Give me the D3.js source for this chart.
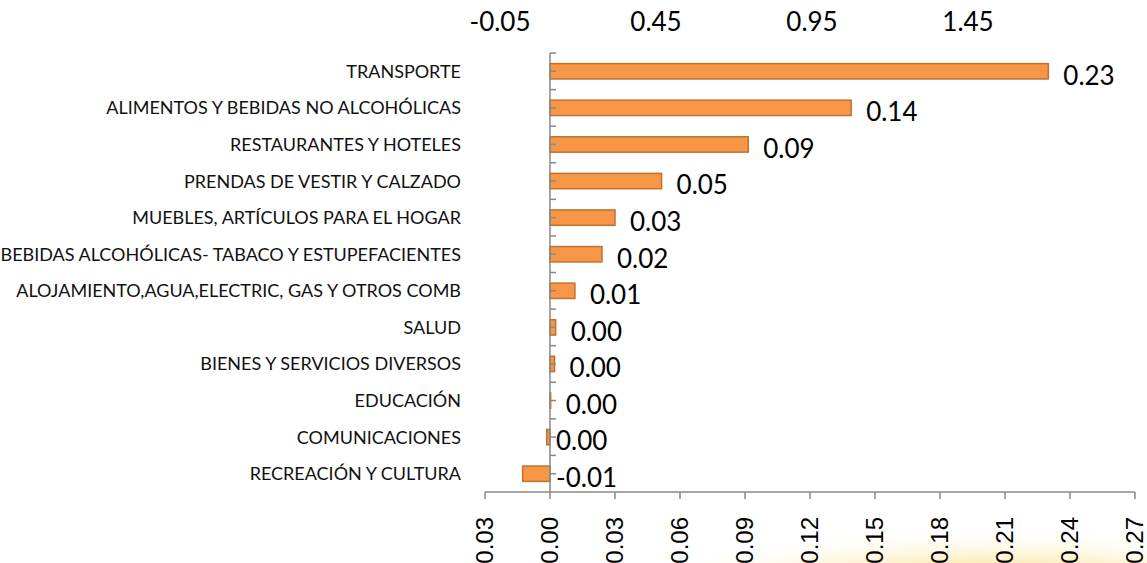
<!DOCTYPE html>
<html>
<head>
<meta charset="utf-8">
<script src="https://cdn.jsdelivr.net/npm/d3@7"></script>
<style>
  body { margin: 0; background: #fff; }
  svg { display: block; }
</style>
</head>
<body>
<svg id="chart" width="1147" height="563"></svg>
<script>
// categories, top to bottom
const categories = [
  "TRANSPORTE",
  "ALIMENTOS Y BEBIDAS NO ALCOHÓLICAS",
  "RESTAURANTES Y HOTELES",
  "PRENDAS DE VESTIR Y CALZADO",
  "MUEBLES, ARTÍCULOS PARA EL HOGAR",
  "BEBIDAS ALCOHÓLICAS- TABACO Y ESTUPEFACIENTES",
  "ALOJAMIENTO,AGUA,ELECTRIC, GAS Y OTROS COMB",
  "SALUD",
  "BIENES Y SERVICIOS DIVERSOS",
  "EDUCACIÓN",
  "COMUNICACIONES",
  "RECREACIÓN Y CULTURA"
];

// incidencias
const values = [0.230, 0.139, 0.0915, 0.0515, 0.030, 0.024, 0.0115, 0.0026, 0.0021, 0.0003, -0.0015, -0.0126];

// bottom axis ticks and their labels (the first one is shown without a minus)
const bottomTicks = [-0.03, 0, 0.03, 0.06, 0.09, 0.12, 0.15, 0.18, 0.21, 0.24, 0.27];
const bottomTickLabels = ["0.03", "0.00", "0.03", "0.06", "0.09", "0.12", "0.15", "0.18", "0.21", "0.24", "0.27"];

// secondary (top) axis labels
const topTicks = [-0.05, 0.45, 0.95, 1.45];

const svg = d3.select("#chart");

const x = d3.scaleLinear().domain([-0.03, 0.27]).range([485, 1135]);
const xTop = d3.scaleLinear().domain([-0.05, 1.45]).range([500, 968]);
const y = d3.scaleBand().domain(categories).range([53, 492])
  .paddingInner(0.58).paddingOuter(0.29);

const fmt = v => {
  const s = v.toFixed(2);
  return s === "-0.00" ? "0.00" : s;
};

// soft yellow glow at the bottom right
const defs = svg.append("defs");
const grad = defs.append("radialGradient").attr("id", "glow");
grad.append("stop").attr("offset", "0%").attr("stop-color", "#f8d55a").attr("stop-opacity", 1);
grad.append("stop").attr("offset", "50%").attr("stop-color", "#fbe6a2").attr("stop-opacity", 0.8);
grad.append("stop").attr("offset", "100%").attr("stop-color", "#ffffff").attr("stop-opacity", 0);
svg.append("ellipse")
  .attr("cx", 990).attr("cy", 605)
  .attr("rx", 380).attr("ry", 80)
  .attr("fill", "url(#glow)");

// bars
svg.append("g")
  .selectAll("rect")
  .data(categories)
  .join("rect")
  .attr("x", (d, i) => x(Math.min(0, values[i])))
  .attr("y", d => y(d))
  .attr("width", (d, i) => Math.abs(x(values[i]) - x(0)))
  .attr("height", y.bandwidth())
  .attr("fill", "#f79646")
  .attr("stroke", "#c0712f")
  .attr("stroke-width", 1.5);

// vertical category axis (crosses at zero)
const axisColor = "#888";
const gy = svg.append("g").attr("stroke", axisColor).attr("stroke-width", 1.5);
const r0 = y.range()[0], step = y.step(), n = categories.length;
gy.append("line")
  .attr("x1", x(0)).attr("x2", x(0))
  .attr("y1", r0).attr("y2", r0 + n * step);
const yTicks = d3.range(n).map(i => r0 + i * step)
  .concat(categories.map(c => y(c) + y.bandwidth() / 2));
gy.selectAll("line.t")
  .data(yTicks)
  .join("line")
  .attr("class", "t")
  .attr("x1", x(0)).attr("x2", x(0) + 6)
  .attr("y1", d => d).attr("y2", d => d);

// category labels
svg.append("g")
  .selectAll("text")
  .data(categories)
  .join("text")
  .attr("x", 461)
  .attr("y", d => y(d) + y.bandwidth() / 2)
  .attr("dy", "0.36em")
  .attr("text-anchor", "end")
  .attr("font-family", "Lato, 'Open Sans', sans-serif")
  .attr("font-size", 18)
  .attr("fill", "#111")
  .text(d => d);

// value labels
svg.append("g")
  .selectAll("text")
  .data(categories)
  .join("text")
  .attr("x", (d, i) => values[i] >= 0 ? x(values[i]) + 15 : x(0) + 6)
  .attr("y", (d, i) => y(d) + y.bandwidth() / 2 + 4)
  .attr("dy", "0.36em")
  .attr("font-family", "Lato, 'Open Sans', sans-serif")
  .attr("font-size", 26)
  .attr("fill", "#000")
  .text((d, i) => fmt(values[i]));

// bottom axis
const axisY = 492;
const gx = svg.append("g");
gx.append("line")
  .attr("x1", x.range()[0]).attr("x2", x.range()[1])
  .attr("y1", axisY).attr("y2", axisY)
  .attr("stroke", axisColor).attr("stroke-width", 1.5);
gx.selectAll("line.t")
  .data(bottomTicks)
  .join("line")
  .attr("class", "t")
  .attr("x1", d => x(d)).attr("x2", d => x(d))
  .attr("y1", axisY).attr("y2", axisY + 7)
  .attr("stroke", axisColor).attr("stroke-width", 1.5);
gx.selectAll("text")
  .data(bottomTicks)
  .join("text")
  .attr("transform", d => `translate(${x(d)},517) rotate(-90)`)
  .attr("dy", "0.35em")
  .attr("text-anchor", "end")
  .attr("font-family", "'Liberation Sans', Arial, sans-serif")
  .attr("font-size", 24)
  .attr("fill", "#000")
  .text((d, i) => bottomTickLabels[i]);

// top secondary axis: labels only
svg.append("g")
  .selectAll("text")
  .data(topTicks)
  .join("text")
  .attr("x", d => xTop(d))
  .attr("y", 22)
  .attr("dy", "0.36em")
  .attr("text-anchor", "middle")
  .attr("font-family", "Lato, 'Open Sans', sans-serif")
  .attr("font-size", 26)
  .attr("fill", "#000")
  .text(d => d.toFixed(2));
</script>
</body>
</html>
